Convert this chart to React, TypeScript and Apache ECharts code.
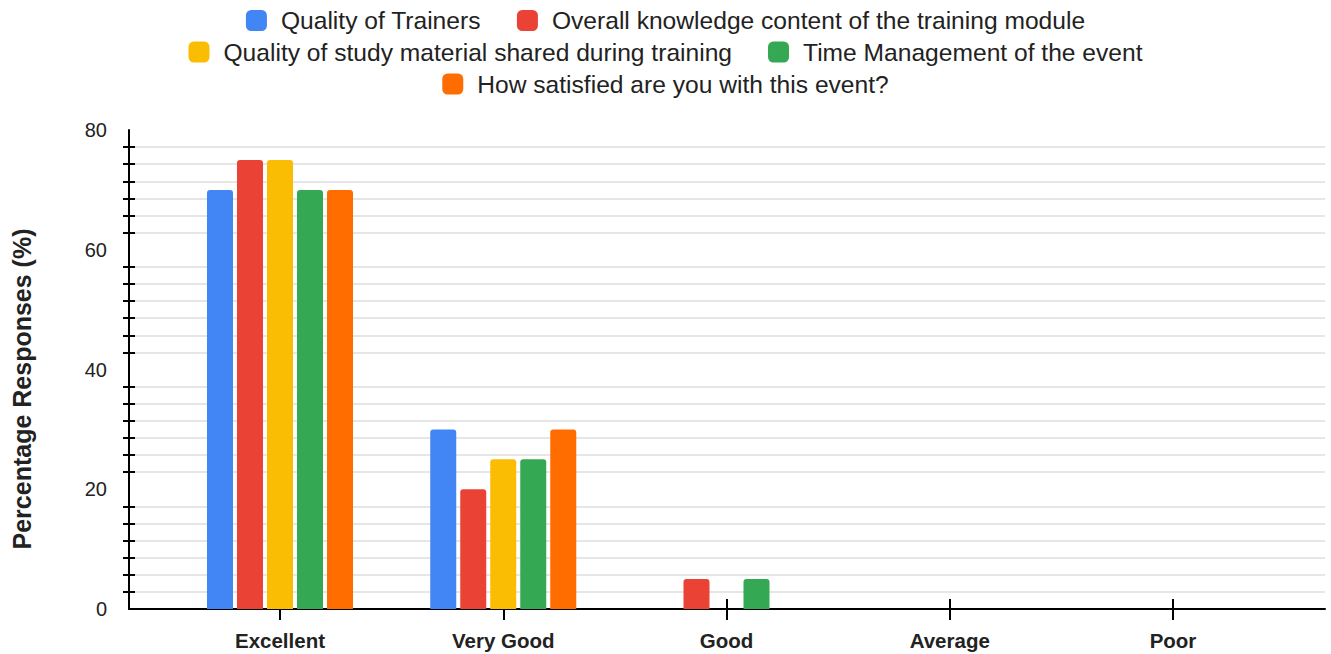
import React, { useEffect, useRef } from "react";
import * as echarts from "echarts";

const categories = ["Excellent", "Very Good", "Good", "Average", "Poor"];
const seriesNames = [
  "Quality of Trainers",
  "Overall knowledge content of the training module",
  "Quality of study material shared during training",
  "Time Management of the event",
  "How satisfied are you with this event?",
];
const trainers = [70, 30, 0, 0, 0];
const knowledge = [75, 20, 5, 0, 0];
const material = [75, 25, 0, 0, 0];
const timeMgmt = [70, 25, 5, 0, 0];
const satisfied = [70, 30, 0, 0, 0];
const colors = ["#4285F4", "#EA4335", "#FBBC04", "#34A853", "#FF6D01"];
const yTicks = { min: 0, max: 80, interval: 20 };
const yTitle = "Percentage Responses (%)";

const FONT = '"Liberation Sans", Arial, sans-serif';

export default function App() {
  const ref = useRef<HTMLDivElement>(null);
  useEffect(() => {
    if (!ref.current) return;
    const chart = echarts.init(ref.current, null, { renderer: "svg" });
    const values = [trainers, knowledge, material, timeMgmt, satisfied];
    const legendRows = [
      [seriesNames[0], seriesNames[1]],
      [seriesNames[2], seriesNames[3]],
      [seriesNames[4]],
    ];
    const legendTops = [8, 39.5, 71.5];
    const top = 130;
    const bottom = 654 - 609;
    const catCenterFirst = 280;
    const catStep = 223.25;
    const barLeft = catCenterFirst - catStep / 2;
    const barWidthTotal = catStep * categories.length;

    const option: any = {
      animation: false,
      backgroundColor: "#ffffff",
      textStyle: { fontFamily: FONT },
      legend: legendRows.map((row, i) => ({
        data: row,
        top: legendTops[i],
        left: "center",
        padding: 0,
        icon: "roundRect",
        itemWidth: 21,
        itemHeight: 21,
        itemGap: 36,
        textStyle: {
          fontSize: 24.6,
          lineHeight: 21,
          color: "#222222",
          fontFamily: FONT,
          padding: [0, 0, 0, 9],
        },
      })),
      grid: [
        { left: 129, right: 6, top, bottom },
        { left: barLeft, width: barWidthTotal, top, bottom },
      ],
      xAxis: [
        {
          type: "value",
          gridIndex: 0,
          min: 0,
          max: 1,
          axisLine: { show: true, onZero: false, lineStyle: { color: "#000", width: 2 } },
          axisTick: { show: false },
          axisLabel: { show: false },
          splitLine: { show: false },
        },
        {
          type: "category",
          gridIndex: 1,
          position: "bottom",
          data: categories,
          axisLine: { show: false },
          axisTick: {
            show: true,
            alignWithLabel: true,
            length: 11,
            lineStyle: { color: "#000", width: 2 },
          },
          axisLabel: {
            fontSize: 20.5,
            fontWeight: "bold",
            color: "#222222",
            margin: 21,
            fontFamily: FONT,
          },
        },
        {
          type: "category",
          gridIndex: 1,
          position: "bottom",
          data: categories,
          axisLine: { show: false },
          axisTick: {
            show: true,
            inside: true,
            alignWithLabel: true,
            length: 10,
            lineStyle: { color: "#000", width: 2 },
          },
          axisLabel: { show: false },
        },
      ],
      yAxis: [
        {
          type: "value",
          gridIndex: 0,
          position: "left",
          ...yTicks,
          axisLine: { show: true, lineStyle: { color: "#000", width: 2 } },
          axisTick: { show: false },
          axisLabel: {
            fontSize: 20,
            color: "#222222",
            margin: 22,
            fontFamily: FONT,
          },
          splitLine: { show: false },
          minorTick: {
            show: true,
            splitNumber: 7,
            length: 6,
            lineStyle: { color: "#000", width: 2 },
          },
          minorSplitLine: {
            show: true,
            lineStyle: { color: "#e6e6e6", width: 2 },
          },
        },
        {
          type: "value",
          gridIndex: 0,
          position: "left",
          ...yTicks,
          axisLine: { show: false },
          axisTick: { show: false, inside: true },
          axisLabel: { show: false },
          splitLine: { show: false },
          minorTick: {
            show: true,
            splitNumber: 7,
            length: 6,
            lineStyle: { color: "#000", width: 2 },
          },
          minorSplitLine: { show: false },
        },
        {
          type: "value",
          gridIndex: 1,
          ...yTicks,
          show: false,
          splitLine: { show: false },
        },
      ],
      series: seriesNames.map((name, i) => ({
        name,
        type: "bar",
        xAxisIndex: 1,
        yAxisIndex: 2,
        data: values[i],
        barWidth: 26,
        barGap: "15.4%",
        itemStyle: { color: colors[i], borderRadius: [3, 3, 0, 0] },
      })),
      graphic: [
        {
          type: "text",
          x: 22,
          y: 389,
          rotation: Math.PI / 2,
          style: {
            text: yTitle,
            fontSize: 25,
            fontWeight: "bold",
            fontFamily: FONT,
            fill: "#222222",
            textAlign: "center",
            textVerticalAlign: "middle",
          },
        },
      ],
    };
    chart.setOption(option);
    return () => chart.dispose();
  }, []);
  return (
    <div
      ref={ref}
      style={{ position: "fixed", left: 0, top: 0, width: 1331, height: 654 }}
    />
  );
}
